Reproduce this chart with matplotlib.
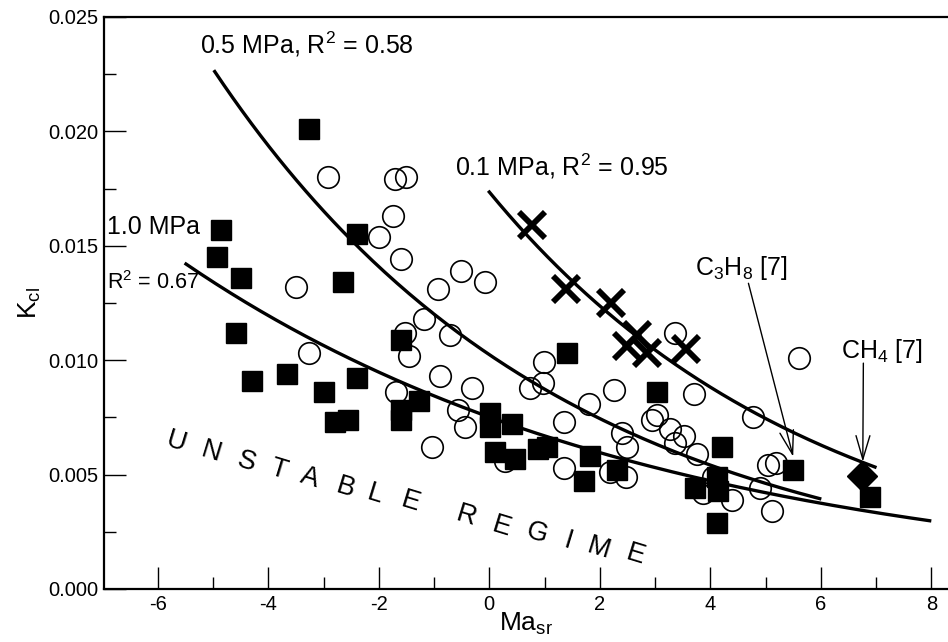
import numpy as np
import matplotlib
matplotlib.use('Agg')
import matplotlib.pyplot as plt

plt.rcParams['font.family'] = ['Liberation Sans', 'DejaVu Sans']
plt.rcParams['mathtext.fontset'] = 'custom'
plt.rcParams['mathtext.rm'] = 'Liberation Sans'
plt.rcParams['mathtext.it'] = 'Liberation Sans:italic'
plt.rcParams['axes.unicode_minus'] = False

# 1.0 MPa (filled squares)
sq_x = [-4.86, -4.92, -4.49, -4.59, -4.29, -3.66, -3.00, -2.79, -2.55, -2.39,
        -2.64, -2.40, -3.27, -1.59, -1.60, -1.59, -1.28, 0.01, 0.01, 0.41,
        0.10, 0.47, 0.89, 1.04, 1.40, 1.82, 1.71, 2.31, 3.03, 3.72,
        4.21, 4.12, 4.14, 4.12, 6.89]
sq_y = [0.0157, 0.0145, 0.0136, 0.0112, 0.0091, 0.0094, 0.0086, 0.0073, 0.0074, 0.0092,
        0.0134, 0.0155, 0.0201, 0.0109, 0.0078, 0.0074, 0.0082, 0.0077, 0.0071, 0.0072,
        0.0060, 0.0057, 0.0061, 0.0062, 0.0103, 0.0058, 0.0047, 0.0052, 0.0086, 0.0044,
        0.0062, 0.0049, 0.0043, 0.0029, 0.0040]

# 0.5 MPa (open circles)
ci_x = [-3.49, -3.27, -2.92, -2.00, -1.75, -1.71, -1.51, -1.59, -1.53, -1.46,
        -1.68, -1.19, -0.93, -0.72, -0.52, -0.08, -0.90, -1.04, -0.32, -0.56,
        -0.44, 0.28, 0.74, 0.98, 0.99, 1.35, 1.36, 1.80, 2.26, 2.40,
        2.49, 2.18, 2.47, 3.36, 3.70, 3.03, 2.94, 3.27, 3.52, 3.36,
        3.75, 3.87, 4.05, 4.39, 4.78, 4.90, 5.05, 5.19, 5.11, 5.60]
ci_y = [0.0132, 0.0103, 0.0180, 0.0154, 0.0163, 0.0179, 0.0180, 0.0144, 0.0112, 0.0102,
        0.0086, 0.0118, 0.0131, 0.0111, 0.0139, 0.0134, 0.0093, 0.0062, 0.0088, 0.0078,
        0.0071, 0.0056, 0.0088, 0.0090, 0.0099, 0.0073, 0.0053, 0.0081, 0.0087, 0.0068,
        0.0062, 0.0051, 0.0049, 0.0112, 0.0085, 0.0076, 0.0074, 0.0070, 0.0067, 0.0064,
        0.0059, 0.0042, 0.0049, 0.0039, 0.0075, 0.0044, 0.0054, 0.0055, 0.0034, 0.0101]

# 0.1 MPa (crosses)
cr_x = [0.77, 1.39, 2.20, 2.67, 2.49, 2.85, 3.56]
cr_y = [0.0159, 0.0131, 0.0125, 0.0111, 0.0106, 0.0103, 0.0105]

# literature points [7]
c3h8_x, c3h8_y = [5.50], [0.0052]
ch4_x, ch4_y = [6.74], [0.00495]

# points
c01_x = [0.0, 1.88, 3.81, 4.78, 5.50, 6.98]
c01_y = [0.0174, 0.01263, 0.0090, 0.00782, 0.0068, 0.00535]
c05_x = [-4.97, -2.67, -1.13, 0.01, 1.28, 2.49, 3.70, 4.90, 5.98]
c05_y = [0.02264, 0.01569, 0.01234, 0.01015, 0.00834, 0.0068, 0.00571, 0.00476, 0.00392]
c10_x = [-5.49, -4.03, -2.82, -1.62, 0.56, 1.58, 3.27, 4.90, 6.71, 7.97]
c10_y = [0.01467, 0.01176, 0.01001, 0.00921, 0.00702, 0.00629, 0.00513, 0.00433, 0.00353, 0.0029]

unstable = list('UNSTABLE') + list('REGIME')
let_x = [-5.66, -5.03, -4.39, -3.82, -3.25, -2.61, -2.07, -1.43,
         -0.41, 0.22, 0.86, 1.43, 1.97, 2.64]
let_y = [0.00643, 0.00599, 0.00556, 0.00520, 0.00484, 0.00440, 0.00411, 0.00381,
         0.00317, 0.00273, 0.00243, 0.00207, 0.00178, 0.00149]


def exp_fit(xs, ys):
    k = np.polyfit(xs, np.log(ys), 1)
    xx = np.linspace(xs[0], xs[-1], 200)
    return xx, np.exp(np.polyval(k, xx))


fig = plt.figure(figsize=(9.48, 6.42), dpi=100)
ax = fig.add_axes([0.1097, 0.0826, 0.8903, 0.891])

for cx, cy in [(c01_x, c01_y), (c05_x, c05_y), (c10_x, c10_y)]:
    xx, yy = exp_fit(cx, cy)
    ax.plot(xx, yy, color='black', lw=2.4, zorder=3)

ax.plot(ci_x, ci_y, 'o', ms=15.5, mfc='none', mec='black', mew=1.2, zorder=2)
ax.plot(sq_x, sq_y, 's', ms=14.5, color='black', zorder=4)
ax.plot(c3h8_x, c3h8_y, 's', ms=14.5, color='black', zorder=4)
ax.plot(ch4_x, ch4_y, 'D', ms=15, color='black', zorder=4)
ax.plot(cr_x, cr_y, 'x', ms=19, mec='black', mew=4.2, zorder=5)

ax.text(-5.24, 0.02342, '0.5 MPa, R$^2$ = 0.58', fontsize=18, va='baseline')
ax.text(-0.62, 0.01805, '0.1 MPa, R$^2$ = 0.95', fontsize=18, va='baseline')
ax.text(-6.92, 0.0155, '1.0 MPa', fontsize=18, va='baseline')
ax.text(-6.92, 0.01311, 'R$^2$ = 0.67', fontsize=15.5, va='baseline')
ax.text(3.72, 0.01373, r'C$_3$H$_8$ [7]', fontsize=18, va='baseline')
ax.text(6.36, 0.01008, r'CH$_4$ [7]', fontsize=18, va='baseline')

arrow = dict(arrowstyle='->,head_length=0.85,head_width=0.25', lw=1.0,
             color='black', mutation_scale=20, shrinkA=0, shrinkB=0)
ax.annotate('', xy=(5.50, 0.00578), xytext=(4.69, 0.01336), arrowprops=arrow)
ax.annotate('', xy=(6.76, 0.00556), xytext=(6.77, 0.00987), arrowprops=arrow)

for ch, lx, ly in zip(unstable, let_x, let_y):
    ax.text(lx, ly, ch, fontsize=19.5, rotation=-17, ha='center', va='center',
            rotation_mode='anchor')

ax.set_xlim(-6.974, 8.302)
ax.set_ylim(0, 0.025)
ax.set_xticks(np.arange(-6, 9, 2))
ax.set_xticks(np.arange(-6, 9, 1), minor=True)
ax.set_yticks(np.arange(0, 0.0251, 0.005))
ax.set_yticks(np.arange(0, 0.0251, 0.0025), minor=True)
ax.set_yticklabels(['%.3f' % v for v in np.arange(0, 0.0251, 0.005)])
ax.tick_params(which='major', direction='in', length=15.5, width=1.0, labelsize=14.5, pad=4)
ax.tick_params(which='minor', direction='in', length=8.5, width=1.0)

ax.spines['right'].set_visible(False)
for s in ['left', 'bottom', 'top']:
    ax.spines[s].set_linewidth(1.6)

ax.set_xlabel(r'Ma$_{\mathrm{sr}}$', fontsize=19, labelpad=-2)
ax.set_ylabel(r'K$_{\mathrm{cl}}$', fontsize=19, labelpad=4)

fig.savefig('out.png', dpi=100)
